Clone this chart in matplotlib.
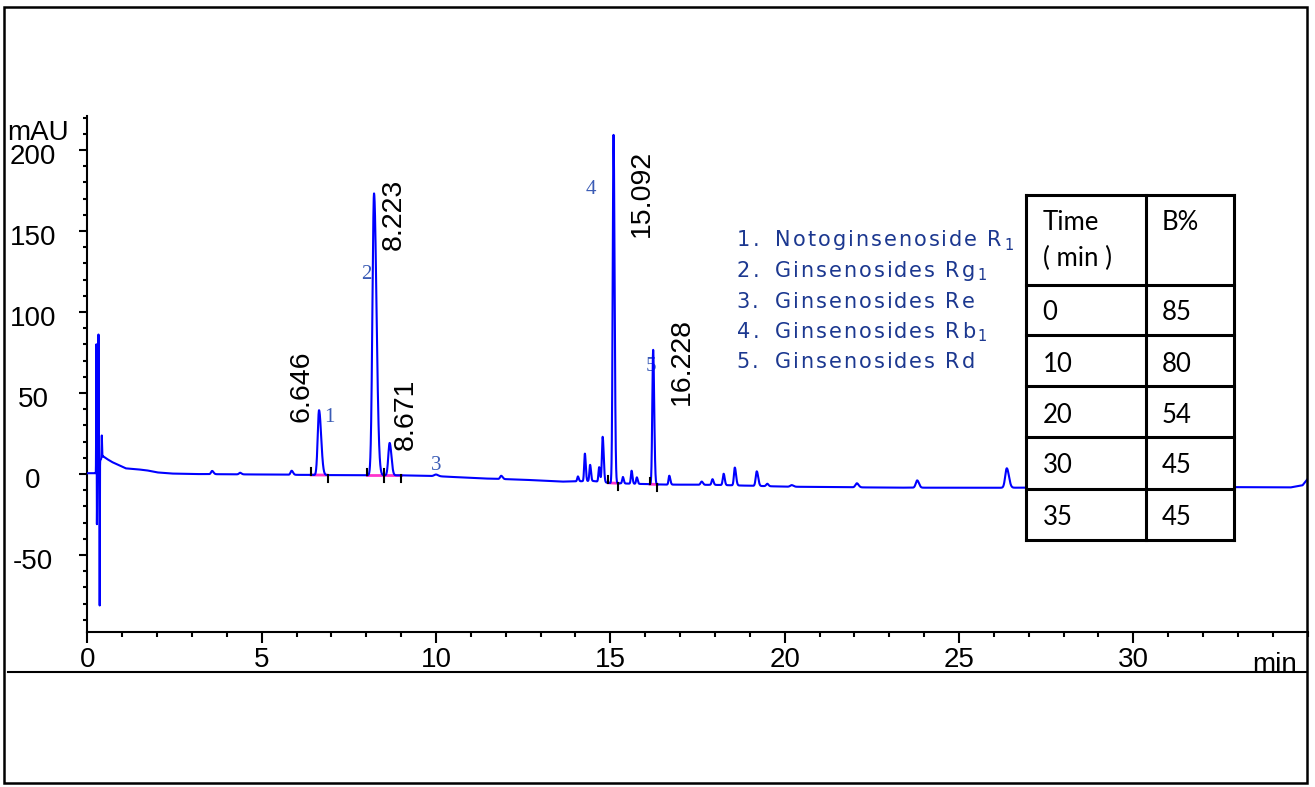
import numpy as np
import matplotlib.pyplot as plt
from matplotlib.lines import Line2D
from matplotlib.patches import Rectangle
from matplotlib import transforms, font_manager, ft2font

plt.rcParams['font.family'] = 'Liberation Sans'

W, H = 1315, 787

# baseline drift of the trace (min, mAU)
base_t = [0, 0.24, 0.3, 0.45, 0.55, 0.7, 0.9, 1.1, 1.4, 1.7, 2.0, 2.4, 3.0, 5.0,
          6.5, 8.0, 9.0, 10.0, 11.3, 12.5, 13.6, 14.5, 15.0, 16.5, 18.0, 19.5,
          20.0, 23.0, 26.0, 28.0, 32.0, 34.5, 34.85, 35.0]
base_v = [0.5, 0.5, 6, 11, 9.5, 7.5, 5.5, 3.5, 3, 2.3, 1, 0.3, 0, -0.3,
          -0.6, -0.8, -0.8, -1.3, -2.7, -3.5, -4.7, -4.3, -5.6, -6.5, -6.7, -7.5,
          -7.8, -8.4, -8.5, -8.3, -8.0, -8.3, -7, -3]

# peaks: retention time, height above baseline, left width, right width (min)
peak_rt = [0.26, 0.275, 0.32, 0.355, 0.415,
           3.58, 4.38, 5.86, 6.646, 8.223, 8.671, 10.0, 11.87,
           14.07, 14.27, 14.42, 14.68, 14.78, 15.092, 15.36, 15.61, 15.76,
           16.228, 16.69, 17.62, 17.93, 18.25, 18.57, 19.2, 19.5, 20.2,
           22.07, 23.8, 26.37, 27.2, 27.6, 32.0]
peak_h = [78, -36, 80, -90, 14,
          2, 1, 2.5, 40, 174, 20, 1, 2,
          3, 17, 10, 9, 28, 215, 4, 8, 4,
          83, 5.5, 2, 3.5, 7, 11, 9, 1.5, 1,
          2.5, 4.5, 12, 2.5, 2, 1]
peak_wl = [0.005, 0.004, 0.005, 0.004, 0.006,
           0.03, 0.03, 0.03, 0.038, 0.045, 0.038, 0.05, 0.03,
           0.02, 0.02, 0.02, 0.02, 0.022, 0.024, 0.02, 0.02, 0.02,
           0.024, 0.02, 0.03, 0.025, 0.025, 0.025, 0.03, 0.03, 0.04,
           0.04, 0.04, 0.045, 0.05, 0.05, 0.05]
peak_wr = [0.005, 0.004, 0.005, 0.004, 0.008,
           0.04, 0.04, 0.04, 0.06, 0.07, 0.05, 0.06, 0.04,
           0.025, 0.025, 0.025, 0.025, 0.03, 0.03, 0.025, 0.025, 0.025,
           0.03, 0.03, 0.035, 0.03, 0.03, 0.035, 0.04, 0.035, 0.05,
           0.05, 0.05, 0.06, 0.06, 0.06, 0.06]

# retention time labels and peak numbers
rt_labels = ['6.646', '8.223', '8.671', '15.092', '16.228']
rt_lab_x = [6.15, 8.78, 9.14, 15.90, 17.05]
rt_lab_y = [32, 138.3, 14.8, 146.5, 42.6]
num_labels = ['1', '2', '3', '4', '5']
num_x = [6.94, 7.99, 10.02, 14.43, 16.17]
num_y = [34.9, 123.3, 5.2, 175.8, 66.5]

# integration marks
int_segs = [(6.42, 6.87), (8.03, 8.99), (14.94, 15.23), (16.14, 16.35)]
tick_up = [6.42, 8.03, 8.52, 14.94, 16.14]
tick_down = [6.91, 8.52, 8.99, 15.23, 16.35]

legend_nums = ['1.', '2.', '3.', '4.', '5.']
legend_names = ['Notoginsenoside R', 'Ginsenosides Rg', 'Ginsenosides Re',
                'Ginsenosides Rb', 'Ginsenosides Rd']
legend_subs = ['1', '1', '', '1', '']

table_time = ['0', '10', '20', '30', '35']
table_b = ['85', '80', '54', '45', '45']

t = np.linspace(0, 35, 25001)
sig = np.interp(t, base_t, base_v)
for rt, h, wl, wr in zip(peak_rt, peak_h, peak_wl, peak_wr):
    w = np.where(t < rt, wl, wr)
    sig = sig + h * np.exp(-0.5 * ((t - rt) / w) ** 2)

fig = plt.figure(figsize=(W / 100, H / 100), dpi=100)


def fx(x):
    return x / W


def fy(y):
    return 1 - y / H


ax = fig.add_axes([fx(87.3), fy(632.3), fx(1307.7) - fx(87.3), fy(116) - fy(632.3)])
ax.plot(t, sig, color='#0000ff', lw=1.5, zorder=3)
ax.set_xlim(0, 35)
ax.set_ylim(-97.7, 221)

for a, b in int_segs:
    ya, yb = np.interp([a, b], base_t, base_v)
    ax.plot([a, b], [ya, yb], color='#ff33cc', lw=2, zorder=2)
for x in tick_up:
    yb = np.interp(x, base_t, base_v)
    ax.plot([x, x], [yb, yb + 4], color='black', lw=1.5, zorder=4)
for x in tick_down:
    yb = np.interp(x, base_t, base_v)
    ax.plot([x, x], [yb, yb - 4], color='black', lw=1.5, zorder=4)

for s, x, y in zip(rt_labels, rt_lab_x, rt_lab_y):
    ax.text(x, y, s, rotation=90, ha='center', va='bottom', fontsize=20.5, color='black')
for s, x, y in zip(num_labels, num_x, num_y):
    ax.text(x, y, s, ha='center', va='center', fontsize=15, color='#3a5bb5',
            family='Liberation Serif', zorder=2)

for sp in ['top', 'right']:
    ax.spines[sp].set_visible(False)
for sp in ['left', 'bottom']:
    ax.spines[sp].set_linewidth(1.5)

ax.set_xticks(np.arange(0, 35, 5))
ax.set_xticks(np.arange(0, 36, 1), minor=True)
ax.set_yticks(np.arange(-50, 201, 50))
ax.set_yticks(np.arange(-90, 221, 10), minor=True)
ax.tick_params(axis='x', which='major', length=8, width=1.5, labelsize=20, pad=2.5)
ax.tick_params(axis='x', which='minor', length=3.6, width=1.5)
ax.tick_params(axis='y', which='major', length=5.8, width=1.5, labelleft=False)
ax.tick_params(axis='y', which='minor', length=2.9, width=1.5)

ytr = transforms.blended_transform_factory(fig.transFigure, ax.transData) + \
    transforms.ScaledTranslation(0, -7 / 100, fig.dpi_scale_trans)
for v in np.arange(-50, 201, 50):
    ax.text(fx(33), v, str(v), transform=ytr, ha='center', va='center', fontsize=20)

fig.text(fx(7), fy(140), 'mAU', fontsize=20, va='baseline', ha='left')
fig.text(fx(1252.7), fy(671.7), 'min', fontsize=20, va='baseline', ha='left')

# legend of compounds, drawn with extra letter spacing
lp = font_manager.FontProperties(family='DejaVu Sans', size=15)
ftf = ft2font.FT2Font(font_manager.findfont(lp), hinting_factor=1)
ftf.set_size(15, 100)
leg_color = '#1c3890'


def spaced(x, yb, s, gap=1.7):
    for ch in s:
        fig.text(fx(x), yb, ch, fontproperties=lp, color=leg_color, va='baseline')
        x += ftf.load_char(ord(ch)).horiAdvance / 64 + gap
    return x


for i, (n, s, sub) in enumerate(zip(legend_nums, legend_names, legend_subs)):
    yb = fy(246.5 + i * 30.5)
    spaced(736.7, yb, n)
    xe = spaced(775, yb, s)
    if sub:
        fig.text(fx(xe), yb, '$_{' + sub + '}$', fontproperties=lp, color=leg_color,
                 va='baseline')

# gradient table
rows = [195, 285, 335, 386, 437, 489, 539.5]
cols = [1026, 1145.7, 1234.3]
fig.add_artist(Rectangle((fx(cols[0]), fy(rows[0])), fx(cols[2]) - fx(cols[0]),
                         fy(rows[-1]) - fy(rows[0]), facecolor='white', edgecolor='none',
                         transform=fig.transFigure, zorder=5))
for r in rows:
    fig.add_artist(Line2D([fx(cols[0]), fx(cols[2])], [fy(r), fy(r)], color='black', lw=2.2, zorder=6))
for c in cols:
    fig.add_artist(Line2D([fx(c), fx(c)], [fy(rows[0]), fy(rows[-1])], color='black', lw=2.2, zorder=6))
fig.text(fx(1042.7), fy(230), 'Time', fontsize=18.5, family='Lato', va='baseline', zorder=7)
fig.text(fx(1042.7), fy(266), '( min )', fontsize=18.5, family='Lato', va='baseline', zorder=7)
fig.text(fx(1161.7), fy(230), 'B%', fontsize=18.5, family='Lato', va='baseline', zorder=7)
row_base = [320, 371.7, 422.7, 473.3, 525]
for a, b, yb in zip(table_time, table_b, row_base):
    fig.text(fx(1042.7), fy(yb), a, fontsize=18.5, family='Lato', va='baseline', zorder=7)
    fig.text(fx(1161.7), fy(yb), b, fontsize=18.5, family='Lato', va='baseline', zorder=7)

# outer frame and separator line
fig.add_artist(Rectangle((fx(4.3), fy(783)), fx(1307) - fx(4.3), fy(6.5) - fy(783),
                         fill=False, edgecolor='black', lw=1.8, transform=fig.transFigure))
fig.add_artist(Line2D([fx(8), fx(1307)], [fy(672.3), fy(672.3)], color='black', lw=1.5))

fig.savefig('out.png', dpi=100)
